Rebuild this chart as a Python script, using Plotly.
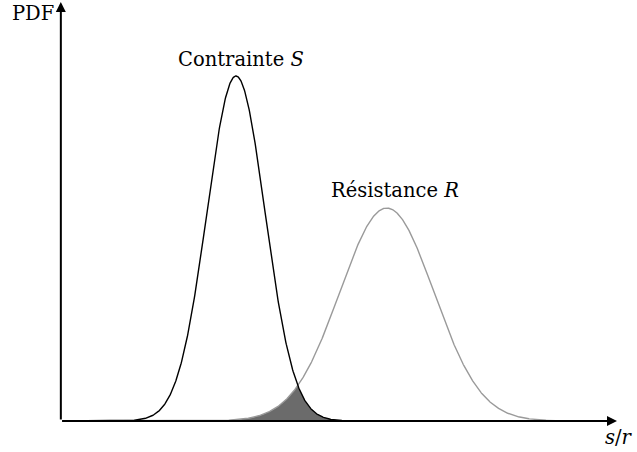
import numpy as np
import plotly.graph_objects as go

# Stress (contrainte) and strength (résistance) distributions
labels = ["Contrainte <i>S</i>", "Résistance <i>R</i>"]
means = [3.0, 5.6]
sigmas = [0.5, 0.81]
line_colors = ["#000000", "#9a9a9a"]
x_label = "<i>s</i>/<i>r</i>"
y_label = "PDF"

W, H = 637, 452
px_per_x = 58.0      # horizontal scale
px_per_y = 432.4     # vertical scale
x0_px, y0_px = 62, 421   # origin position

x_range = [-x0_px / px_per_x, (W - x0_px) / px_per_x]
y_range = [-(H - y0_px) / px_per_y, y0_px / px_per_y]


def pdf(x, mu, sd):
    return np.exp(-0.5 * ((x - mu) / sd) ** 2) / (sd * np.sqrt(2 * np.pi))


x = np.linspace(0.0, 9.5, 1200)
curves = [pdf(x, m, s) for m, s in zip(means, sigmas)]
overlap = np.minimum(curves[0], curves[1])

fig = go.Figure()

# interference area under both densities
mask = (x > 2.6) & (x < 6.0)
fig.add_trace(go.Scatter(
    x=x[mask], y=overlap[mask], mode="lines", line=dict(width=0),
    fill="tozeroy", fillcolor="#6b6b6b", hoverinfo="skip", showlegend=False))

# strength first, stress on top
for i in [1, 0]:
    fig.add_trace(go.Scatter(
        x=x, y=curves[i], mode="lines",
        line=dict(color=line_colors[i], width=1.4),
        showlegend=False, hoverinfo="skip"))

font = dict(family='"DejaVu Serif", serif', size=19.5, color="#000")

ann = []
# axes with arrow heads
x_tip = (617 - x0_px) / px_per_x
y_tip = (y0_px - 2) / px_per_y
ann.append(dict(x=x_tip, y=0, ax=-0.02, ay=0, xref="x", yref="y", axref="x", ayref="y",
                showarrow=True, arrowhead=2, arrowsize=1.0, arrowwidth=2, arrowcolor="#000",
                text=""))
ann.append(dict(x=-0.02, y=y_tip, ax=-0.02, ay=0, xref="x", yref="y", axref="x", ayref="y",
                showarrow=True, arrowhead=2, arrowsize=1.0, arrowwidth=2, arrowcolor="#000",
                text=""))

# text labels
def at(px, py):
    return (px - x0_px) / px_per_x, (y0_px - py) / px_per_y

for text, (cx, cy) in [
    (labels[0], at(241, 59)),
    (labels[1], at(395, 190)),
    (y_label, at(33, 13)),
    (x_label, at(619, 437)),
]:
    ann.append(dict(x=cx, y=cy, xref="x", yref="y", text=text, showarrow=False,
                    font=font, xanchor="center", yanchor="middle"))

fig.update_layout(
    width=W, height=H,
    margin=dict(l=0, r=0, t=0, b=0),
    paper_bgcolor="white", plot_bgcolor="white",
    xaxis=dict(range=x_range, visible=False, fixedrange=True),
    yaxis=dict(range=y_range, visible=False, fixedrange=True),
    annotations=ann,
)

fig.write_html("out.html")
